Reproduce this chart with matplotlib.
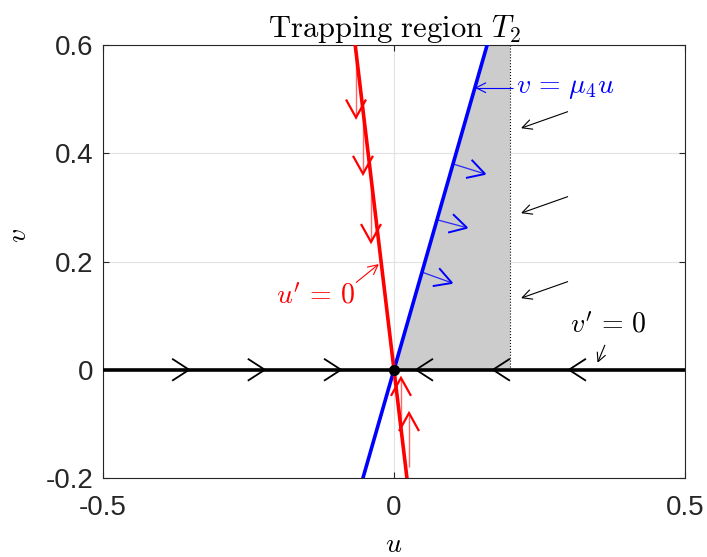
import numpy as np
import matplotlib
matplotlib.use("Agg")
import matplotlib.pyplot as plt

plt.rcParams['mathtext.fontset'] = 'cm'
plt.rcParams['font.family'] = ['Liberation Sans', 'DejaVu Sans']

# ---------------- data ----------------
mu4 = 3.75                 # slope of v = mu4 u
nullcline_slope = -9.0     # u' = 0 line: v = -9 u
u_box = 0.2                # right edge of trapping region
v_top = 0.6

x_ticks = [-0.5, 0, 0.5]
x_ticklabels = ['-0.5', '0', '0.5']
y_ticks = [-0.2, 0, 0.2, 0.4, 0.6]
y_ticklabels = ['-0.2', '0', '0.2', '0.4', '0.6']

# red vector field arrows near u' = 0 (tails and vectors)
red_tail_u = [-0.0653, -0.0533, -0.0395, 0.012, 0.0258]
red_tail_v = [0.588, 0.480, 0.356, -0.105, -0.180]
red_dv = [-0.122, -0.118, -0.120, 0.090, 0.100]

# blue vector field arrows on v = mu4 u
blue_tail_u = [0.1014, 0.0739, 0.0481]
blue_du = [0.055, 0.0515, 0.0515]
blue_dv = [-0.0185, -0.0148, -0.020]

# black arrow heads on v = 0 (tips, direction +1 right / -1 left)
axis_tip_u = [-0.352, -0.222, -0.091, 0.0378, 0.170, 0.3006]
axis_dir = [1, 1, 1, -1, -1, -1]

# black vector field arrows right of the region
black_tail_u = [0.299, 0.299, 0.299]
black_tail_v = [0.477, 0.320, 0.163]
black_du = -0.079
black_dv = -0.030

# ---------------- figure ----------------
W, H = 707, 557
fig = plt.figure(figsize=(W / 100, H / 100), dpi=100)
ax = fig.add_axes([103 / W, 79 / H, 582 / W, 433 / H])
ax.set_xlim(-0.5, 0.5)
ax.set_ylim(-0.2, 0.6)

dark = '#262626'
ax.set_xticks(x_ticks)
ax.set_xticklabels(x_ticklabels)
ax.set_yticks(y_ticks)
ax.set_yticklabels(y_ticklabels)
ax.tick_params(direction='in', length=4.5, width=0.8, color=dark,
               labelcolor=dark, labelsize=20, top=True, right=True)
ax.tick_params(axis='x', pad=12)
ax.tick_params(axis='y', pad=7)
for s in ax.spines.values():
    s.set_color(dark)
    s.set_linewidth(0.8)
ax.grid(True, color='#e2e2e2', lw=0.8, zorder=0)
ax.set_axisbelow(True)

# trapping region
ax.fill([0, u_box, u_box, v_top / mu4], [0, 0, v_top, v_top],
        color=(0.8, 0.8, 0.8), lw=0, zorder=1)
ax.plot([u_box, u_box], [0, v_top], color='k', ls=':', lw=0.8, zorder=2)

# v = 0 line
ax.axhline(0, color='k', lw=2.6, zorder=3)

# nullclines
vv = np.array([-0.2, 0.6])
ax.plot(vv / mu4, vv, color='b', lw=2.6, zorder=4)
ax.plot(vv / nullcline_slope, vv, color='r', lw=2.6, zorder=5)

T = ax.transData
Tinv = T.inverted()


def vhead(tip, direction, color, lw, L, Hw, z):
    """Open V arrow head at tip (data), pointing along direction (data)."""
    tip = np.asarray(tip, dtype=float)
    d = np.asarray(direction, dtype=float)
    p = T.transform(tip)
    q = T.transform(tip - d)
    u = (p - q) / np.hypot(*(p - q))
    n = np.array([-u[1], u[0]])
    a1 = p - L * u + Hw * n
    a2 = p - L * u - Hw * n
    pts = Tinv.transform(np.array([a1, p, a2]))
    ax.plot(pts[:, 0], pts[:, 1], color=color, lw=lw, zorder=z,
            solid_joinstyle='miter', solid_capstyle='butt')


def arrow(tail, tip, color, lw, L, Hw, z, alpha=1.0, hlw=None):
    ax.plot([tail[0], tip[0]], [tail[1], tip[1]], color=color, lw=lw,
            alpha=alpha, zorder=z, solid_capstyle='butt')
    vhead(tip, (tip[0] - tail[0], tip[1] - tail[1]), color,
          hlw if hlw else lw, L, Hw, z + 0.5)


# red quiver
for u0, v0, dv in zip(red_tail_u, red_tail_v, red_dv):
    arrow((u0, v0), (u0, v0 + dv), 'r', 1.0, 18, 10, 6, alpha=0.6, hlw=1.6)

# blue quiver
for u0, du, dv in zip(blue_tail_u, blue_du, blue_dv):
    v0 = mu4 * u0
    arrow((u0, v0), (u0 + du, v0 + dv), 'b', 0.9, 17, 9.5, 6, alpha=0.8, hlw=1.4)

# arrow heads on v = 0
for ut, d in zip(axis_tip_u, axis_dir):
    vhead((ut, 0), (d, 0), 'k', 1.3, 17, 11, 7)

# black vector field arrows
for u0, v0 in zip(black_tail_u, black_tail_v):
    arrow((u0, v0), (u0 + black_du, v0 + black_dv), 'k', 0.8, 10, 5, 7)

# origin
ax.plot([0], [0], 'o', color='k', ms=7, zorder=9)

# labels with pointers
arrow((0.2045, 0.521), (0.141, 0.521), 'b', 0.8, 10, 5, 7)
ax.text(0.209, 0.521, r'$v\,=\,\mu_4 u$', color='b', fontsize=20,
        ha='left', va='center')

arrow((-0.0653, 0.161), (-0.0275, 0.194), 'r', 0.8, 10, 5, 7)
ax.text(-0.067, 0.135, r"$u'\,=\,0$", color='r', fontsize=20,
        ha='right', va='center')

arrow((0.3625, 0.046), (0.3505, 0.0148), 'k', 0.8, 9, 4.5, 7)
ax.text(0.368, 0.081, r"$v'\,=\,0$", color='k', fontsize=20,
        ha='center', va='center')

ax.set_title(r'$\mathrm{Trapping\ region}\ T_2$', fontsize=22, pad=6)
ax.set_xlabel(r'$u$', fontsize=20, labelpad=8)
ax.set_ylabel(r'$v$', fontsize=20)
ax.yaxis.set_label_coords(-0.122, 0.56)

fig.savefig('out.png', dpi=100)
